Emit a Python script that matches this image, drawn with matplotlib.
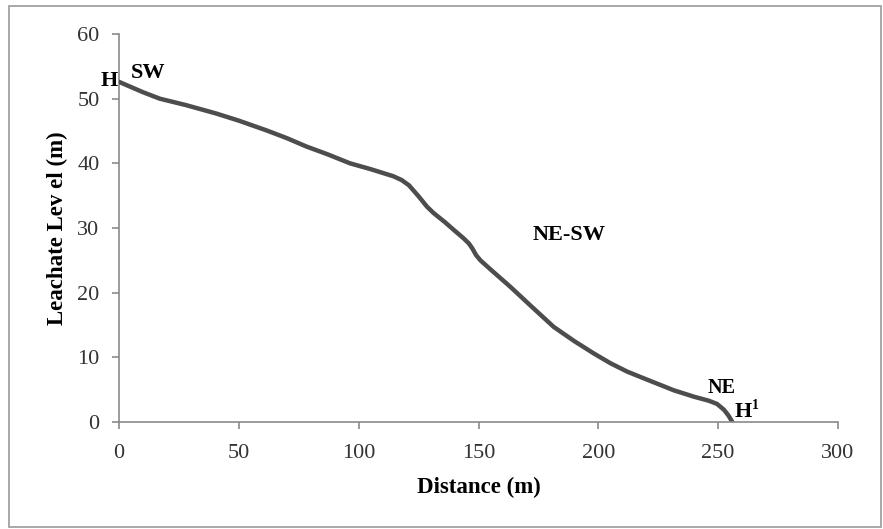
import matplotlib
matplotlib.use("Agg")
import matplotlib.pyplot as plt
from matplotlib.patches import Rectangle

distance = [0, 5, 10, 17, 28, 40.6, 50, 61.5, 70, 78.2, 87, 96.4, 105, 114.5, 118, 121,
            125, 128.5, 131.3, 136, 140, 143.8, 146, 147.5, 149, 150.8, 155, 163.3,
            172, 181.4, 190, 198.1, 205, 212, 220, 231.5, 240, 246, 249.5, 252.4,
            254.3, 255.9]
level = [52.6, 51.8, 51.0, 50.0, 49.0, 47.7, 46.6, 45.1, 43.9, 42.6, 41.4, 40.0, 39.1, 38.0, 37.4, 36.6,
         34.9, 33.3, 32.3, 30.9, 29.6, 28.4, 27.6, 26.8, 25.8, 25.0, 23.6, 20.9,
         17.9, 14.7, 12.5, 10.6, 9.1, 7.8, 6.6, 4.9, 3.9, 3.3, 2.8, 1.9,
         1.0, 0.0]

xticks = [0, 50, 100, 150, 200, 250, 300]
yticks = [0, 10, 20, 30, 40, 50, 60]

serif = ["Liberation Serif", "DejaVu Serif"]
plt.rcParams["font.family"] = serif

fig = plt.figure(figsize=(8.83, 5.29), dpi=100)
fig.patches.append(Rectangle((9 / 883, 2 / 529), 872 / 883, 521 / 529,
                             transform=fig.transFigure, fill=False,
                             edgecolor="#9a9a9a", linewidth=1.2))

ax = fig.add_axes([119 / 883, 1 - 422 / 529, 719 / 883, 388 / 529])
ax.plot(distance, level, color="#4d4d4d", linewidth=3.2, solid_capstyle="round",
        solid_joinstyle="round")

ax.set_xlim(0, 300)
ax.set_ylim(0, 60)
ax.set_xticks(xticks)
ax.set_yticks(yticks)
ax.tick_params(direction="out", length=5, width=1.2, color="#8a8a8a",
               labelsize=16, labelcolor="#333333")
ax.tick_params(axis="x", pad=11)
ax.tick_params(axis="y", pad=9)
for s in ["top", "right"]:
    ax.spines[s].set_visible(False)
for s in ["left", "bottom"]:
    ax.spines[s].set_color("#8a8a8a")
    ax.spines[s].set_linewidth(1.2)
ax.spines["left"].set_zorder(0)

ax.set_xlabel("Distance (m)", fontsize=16.5, fontweight="bold", labelpad=10)
ax.set_ylabel("Leachate Lev el (m)", fontsize=16.5, fontweight="bold", labelpad=7)

ax.text(-0.6, 52.8, "H", fontsize=16, fontweight="bold", ha="right", va="center",
        clip_on=False)
ax.text(12.3, 54.0, "SW", fontsize=16, fontweight="bold", ha="center", va="center")
ax.text(187.9, 28.9, "NE-SW", fontsize=16, fontweight="bold", ha="center", va="center")
ax.text(251.6, 5.3, "NE", fontsize=14.5, fontweight="bold", ha="center", va="center")
ax.text(256.8, 1.5, "H", fontsize=16, fontweight="bold", ha="left", va="center")
ax.text(264.3, 2.6, "1", fontsize=10, fontweight="bold", ha="left", va="center")

fig.savefig("out.png", dpi=100)
